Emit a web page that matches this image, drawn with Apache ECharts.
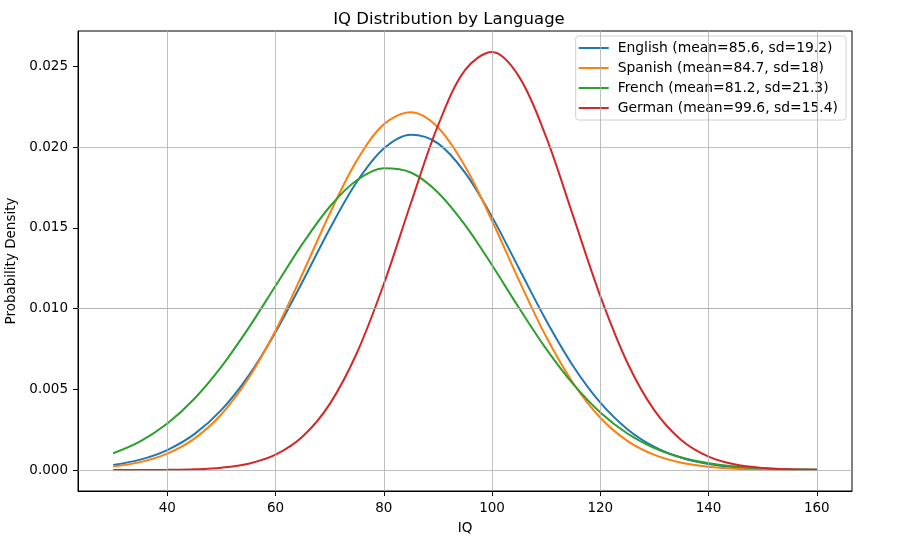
<!DOCTYPE html>
<html>
<head>
<meta charset="utf-8">
<script src="https://cdn.jsdelivr.net/npm/echarts@6/dist/echarts.min.js"></script>
<style>
  html, body { margin: 0; padding: 0; background: #fff; }
  #chart { width: 898px; height: 547px; }
</style>
</head>
<body>
<div id="chart"></div>
<script>
// IQ values where the curves were read
var iq = [30, 35, 40, 45, 50, 55, 60, 65, 70, 75, 80, 85, 90, 95, 100,
          105, 110, 115, 120, 125, 130, 135, 140, 145, 150, 155, 160];

var english = [0.000314, 0.000645, 0.001238, 0.002222, 0.003724, 0.005835, 0.008542, 0.011685, 0.014937, 0.017841,
               0.019913, 0.020768, 0.020239, 0.018431, 0.015684, 0.012471, 0.009266, 0.006433, 0.004174, 0.002531,
               0.001433, 0.000759, 0.000375, 0.000173, 0.000075, 0.000030, 0.000011];
var spanish = [0.000219, 0.000490, 0.001015, 0.001947, 0.003457, 0.005682, 0.008645, 0.012177, 0.015879, 0.019169,
               0.021421, 0.022161, 0.021224, 0.018817, 0.015444, 0.011735, 0.008254, 0.005375, 0.003240, 0.001807,
               0.000934, 0.000447, 0.000198, 0.000081, 0.000031, 0.000011, 0.000004];
var french = [0.001042, 0.001782, 0.002885, 0.004419, 0.006406, 0.008790, 0.011413, 0.014026, 0.016312, 0.017953,
              0.018700, 0.018434, 0.017198, 0.015184, 0.012687, 0.010033, 0.007508, 0.005318, 0.003564, 0.002261,
              0.001358, 0.000771, 0.000415, 0.000211, 0.000102, 0.000046, 0.000020];
var german = [0.000001, 0.000004, 0.000015, 0.000048, 0.000145, 0.000391, 0.000950, 0.002076, 0.004085, 0.007233,
              0.011525, 0.016528, 0.021330, 0.024775, 0.025896, 0.024360, 0.020623, 0.015712, 0.010773, 0.006648,
              0.003692, 0.001845, 0.000830, 0.000336, 0.000122, 0.000040, 0.000012];

var names = ['English (mean=85.6, sd=19.2)', 'Spanish (mean=84.7, sd=18)',
             'French (mean=81.2, sd=21.3)', 'German (mean=99.6, sd=15.4)'];
var colors = ['#1f77b4', '#ff7f0e', '#2ca02c', '#d62728'];

var xTicks = [40, 60, 80, 100, 120, 140, 160];
var yTicks = [0, 0.005, 0.010, 0.015, 0.020, 0.025];

var font = 'DejaVu Sans';

function pairs(vals) {
    return iq.map(function (x, i) { return [x, vals[i]]; });
}

var chart = echarts.init(document.getElementById('chart'));

var series = [english, spanish, french, german].map(function (vals, i) {
    return {
        name: names[i],
        type: 'line',
        data: pairs(vals),
        smooth: 0.34,
        showSymbol: false,
        lineStyle: {width: 2, color: colors[i]},
        itemStyle: {color: colors[i]},
        z: 3
    };
});

// grid lines at the tick values
series.push({
    type: 'line',
    data: [],
    silent: true,
    markLine: {
        silent: true,
        symbol: 'none',
        label: {show: false},
        lineStyle: {color: '#b0b0b0', width: 0.8, type: 'solid'},
        data: xTicks.map(function (v) { return {xAxis: v}; })
            .concat(yTicks.map(function (v) { return {yAxis: v}; }))
    },
    z: 1
});

chart.setOption({
    animation: false,
    textStyle: {fontFamily: font},
    title: {
        text: 'IQ Distribution by Language',
        left: 'center',
        top: 6,
        textStyle: {fontFamily: font, fontSize: 16.5, fontWeight: 'normal', color: '#000'}
    },
    legend: {
        orient: 'vertical',
        right: 52,
        top: 36,
        padding: [5, 8, 5, 3],
        itemWidth: 30,
        itemHeight: 2,
        itemGap: 6,
        borderColor: '#d0d0d0',
        borderWidth: 1,
        borderRadius: 3,
        backgroundColor: 'rgba(255,255,255,0.8)',
        icon: 'rect',
        textStyle: {fontFamily: font, fontSize: 13.9, color: '#000', padding: [0, 0, 0, 4]},
        data: names
    },
    grid: {left: 78, right: 46, top: 31, bottom: 56, containLabel: false, outerBoundsMode: 'none'},
    xAxis: {
        type: 'value',
        min: 23.5,
        max: 166.5,
        name: 'IQ',
        nameLocation: 'middle',
        nameGap: 30,
        nameTextStyle: {fontFamily: font, fontSize: 13.5, color: '#000'},
        axisLine: {onZero: false, lineStyle: {color: '#000', width: 1}},
        axisTick: {show: true, length: 5, customValues: xTicks, lineStyle: {color: '#000'}},
        axisLabel: {customValues: xTicks, fontFamily: font, fontSize: 13.5, color: '#000', margin: 10},
        splitLine: {show: false}
    },
    yAxis: {
        type: 'value',
        min: -0.0013,
        max: 0.0272,
        name: 'Probability Density',
        nameLocation: 'middle',
        nameGap: 54,
        nameTextStyle: {fontFamily: font, fontSize: 13.5, color: '#000'},
        axisLine: {show: true, onZero: false, lineStyle: {color: '#000', width: 1}},
        axisTick: {show: true, length: 5, customValues: yTicks, lineStyle: {color: '#000'}},
        axisLabel: {
            customValues: yTicks, fontFamily: font, fontSize: 13.5, color: '#000', margin: 10,
            formatter: function (v) { return v.toFixed(3); }
        },
        splitLine: {show: false}
    },
    series: series
});

// box on top and right like the axes frame
chart.setOption({
    graphic: [{
        type: 'rect',
        shape: {x: 78, y: 31, width: 898 - 78 - 46, height: 547 - 31 - 56},
        style: {fill: 'none', stroke: '#000', lineWidth: 1},
        silent: true,
        z: 0
    }]
});
</script>
</body>
</html>
